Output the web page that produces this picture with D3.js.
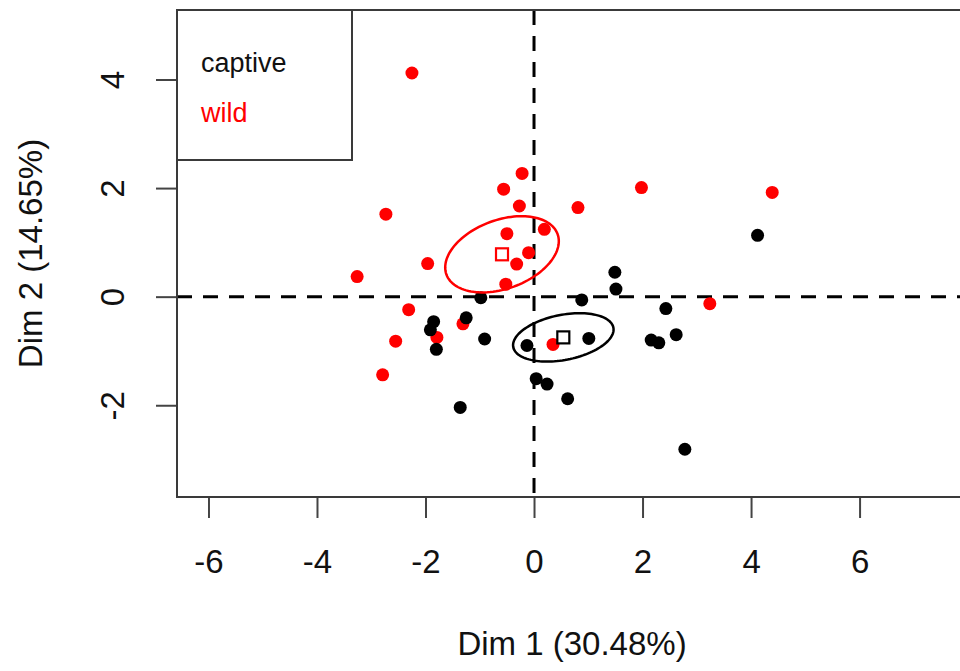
<!DOCTYPE html>
<html>
<head>
<meta charset="utf-8">
<script src="https://cdn.jsdelivr.net/npm/d3@7"></script>
<style>
  body { margin: 0; background: #fff; }
  svg { display: block; font-family: "Liberation Sans", Arial, Helvetica, sans-serif; }
</style>
</head>
<body>
<div id="chart"></div>
<script>
// individuals on the first two dimensions, by group
var captive = [
  [4.12, 1.13], [1.49, 0.45], [1.51, 0.14], [0.88, -0.06], [2.43, -0.22],
  [-0.98, -0.02], [-1.85, -0.46], [-1.91, -0.61], [-1.80, -0.97], [-1.25, -0.39],
  [-0.91, -0.78], [-1.36, -2.04], [-0.13, -0.90], [0.04, -1.51], [0.24, -1.61],
  [1.01, -0.77], [2.16, -0.80], [2.30, -0.85], [2.62, -0.70], [0.62, -1.88],
  [2.78, -2.81]
];
var wild = [
  [-2.25, 4.12], [-0.22, 2.27], [-0.56, 1.98], [-0.27, 1.67], [-2.73, 1.52],
  [0.19, 1.24], [-0.50, 1.16], [-0.10, 0.81], [-0.32, 0.60], [-1.96, 0.61],
  [-3.26, 0.37], [-0.52, 0.23], [-2.31, -0.24], [0.81, 1.64], [1.98, 2.01],
  [4.39, 1.92], [3.24, -0.13], [-1.79, -0.75], [-1.31, -0.50], [-2.55, -0.82],
  [-2.79, -1.44], [0.35, -0.88]
];

// group means and confidence ellipses
var groupNames = ["captive", "wild"];
var groupColors = ["#000000", "#ff0000"];
var groupCentres = [[0.54, -0.75], [-0.59, 0.78]];
var ellipseAxes = [[0.94, 0.415], [1.09, 0.633]];
var ellipseAngles = [11, 20];

var xTicks = [-6, -4, -2, 0, 2, 4, 6];
var yTicks = [-2, 0, 2, 4];
var xTitle = "Dim 1 (30.48%)";
var yTitle = "Dim 2 (14.65%)";

var W = 960, H = 671;
var box = {left: 177, right: 967, top: 10, bottom: 497};
var tickFmt = function(d) { return String(d); }; // plain hyphen, like R

var svg = d3.select("#chart").append("svg")
    .attr("width", W)
    .attr("height", H);

var x = d3.scaleLinear().domain([-6.58, 7.98]).range([box.left, box.right]);
var y = d3.scaleLinear().domain([-3.69, 5.28]).range([box.bottom, box.top]);

// axes (R style: ticks hang off the box)
var xAxis = svg.append("g")
    .attr("transform", "translate(0," + box.bottom + ")")
    .call(d3.axisBottom(x).tickValues(xTicks).tickSize(21).tickPadding(32).tickFormat(tickFmt));
xAxis.select(".domain").remove();
xAxis.selectAll("line").attr("stroke", "#444").attr("stroke-width", 2);
xAxis.selectAll("text")
    .attr("fill", "#111")
    .style("font-size", "33px")
    .style("font-family", "'Liberation Sans', Arial, sans-serif");

var yAxis = svg.append("g")
    .attr("transform", "translate(" + box.left + ",0)")
    .call(d3.axisLeft(y).tickValues(yTicks).tickSize(21).tickFormat(tickFmt));
yAxis.select(".domain").remove();
yAxis.selectAll("line").attr("stroke", "#444").attr("stroke-width", 2);
yAxis.selectAll("text")
    .attr("x", 0)
    .attr("dy", 0)
    .attr("text-anchor", "middle")
    .attr("transform", "translate(-53,0) rotate(-90)")
    .attr("fill", "#111")
    .style("font-size", "33px")
    .style("font-family", "'Liberation Sans', Arial, sans-serif");

// axis titles
svg.append("text")
    .attr("x", (box.left + box.right) / 2)
    .attr("y", 655)
    .attr("text-anchor", "middle")
    .attr("fill", "#111")
    .style("font-size", "33px")
    .text(xTitle);

svg.append("text")
    .attr("transform", "translate(42," + ((box.top + box.bottom) / 2) + ") rotate(-90)")
    .attr("text-anchor", "middle")
    .attr("fill", "#111")
    .style("font-size", "33px")
    .text(yTitle);

// dashed reference lines through the origin
svg.append("line")
    .attr("x1", box.left).attr("x2", box.right)
    .attr("y1", y(0)).attr("y2", y(0))
    .attr("stroke", "#000").attr("stroke-width", 3)
    .attr("stroke-dasharray", "15,11");
svg.append("line")
    .attr("x1", x(0)).attr("x2", x(0))
    .attr("y1", box.top).attr("y2", box.bottom)
    .attr("stroke", "#000").attr("stroke-width", 3)
    .attr("stroke-dasharray", "15,11");

// points: wild first, captive on top
var groups = [wild, captive];
var groupCols = [groupColors[1], groupColors[0]];
groups.forEach(function(pts, i) {
  svg.append("g").selectAll("circle")
    .data(pts)
    .enter().append("circle")
      .attr("cx", function(d) { return x(d[0]); })
      .attr("cy", function(d) { return y(d[1]); })
      .attr("r", 6.5)
      .attr("fill", groupCols[i]);
});

// ellipses around group means
var line = d3.line()
    .x(function(d) { return x(d[0]); })
    .y(function(d) { return y(d[1]); })
    .curve(d3.curveLinearClosed);

groupNames.forEach(function(name, i) {
  var c = groupCentres[i], a = ellipseAxes[i][0], b = ellipseAxes[i][1];
  var th = ellipseAngles[i] * Math.PI / 180;
  var pts = d3.range(0, 360, 3).map(function(deg) {
    var t = deg * Math.PI / 180;
    return [c[0] + a * Math.cos(t) * Math.cos(th) - b * Math.sin(t) * Math.sin(th),
            c[1] + a * Math.cos(t) * Math.sin(th) + b * Math.sin(t) * Math.cos(th)];
  });
  svg.append("path")
    .attr("d", line(pts))
    .attr("fill", "none")
    .attr("stroke", groupColors[i])
    .attr("stroke-width", 2.5);
});

// mean squares
svg.append("g").selectAll("rect")
  .data(groupCentres)
  .enter().append("rect")
    .attr("x", function(d) { return x(d[0]) - 6; })
    .attr("y", function(d) { return y(d[1]) - 6; })
    .attr("width", 12)
    .attr("height", 12)
    .attr("fill", "#fff")
    .attr("stroke", function(d, i) { return groupColors[i]; })
    .attr("stroke-width", 2.2);

// plot frame
svg.append("rect")
    .attr("x", box.left).attr("y", box.top)
    .attr("width", box.right - box.left)
    .attr("height", box.bottom - box.top)
    .attr("fill", "none")
    .attr("stroke", "#3a3a3a")
    .attr("stroke-width", 2);

// legend
var legend = svg.append("g");
legend.append("rect")
    .attr("x", box.left).attr("y", box.top)
    .attr("width", 175).attr("height", 150)
    .attr("fill", "#fff")
    .attr("stroke", "#3a3a3a")
    .attr("stroke-width", 2);
legend.selectAll("text")
  .data(groupNames)
  .enter().append("text")
    .attr("x", 201)
    .attr("y", function(d, i) { return 72 + i * 50; })
    .attr("fill", function(d, i) { return i === 0 ? "#111" : groupColors[i]; })
    .style("font-size", "27px")
    .text(function(d) { return d; });
</script>
</body>
</html>
